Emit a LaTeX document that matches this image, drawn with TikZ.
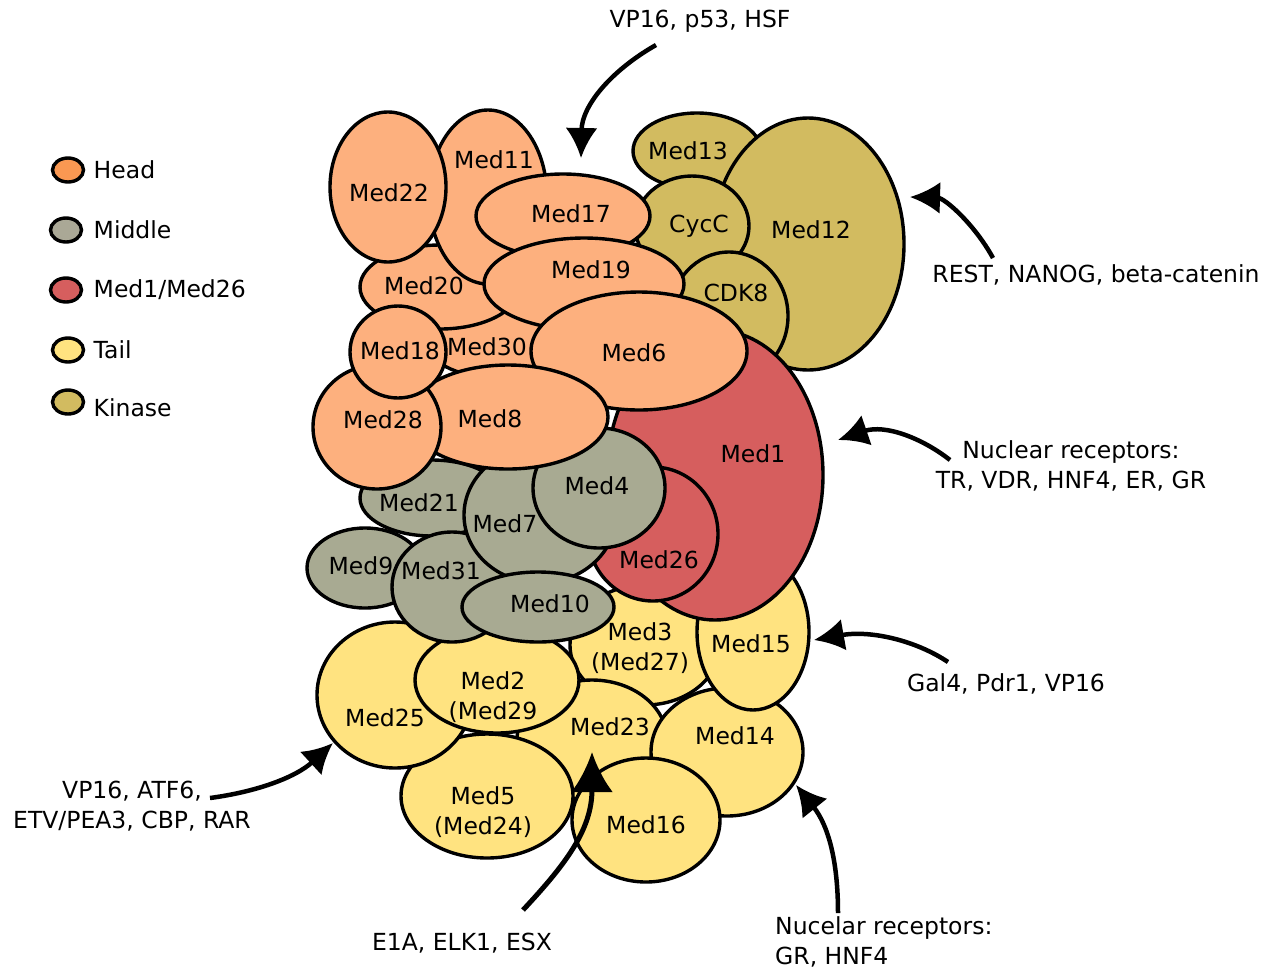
\documentclass[tikz,border=0pt]{standalone}
\usepackage{fontspec}
\setmainfont{DejaVu Sans}
\usetikzlibrary{arrows.meta,positioning,shapes.geometric}

\definecolor{headfill}{RGB}{253,176,126}
\definecolor{midfill}{RGB}{168,170,146}
\definecolor{medfill}{RGB}{214,94,94}
\definecolor{tailfill}{RGB}{255,227,128}
\definecolor{kinfill}{RGB}{210,187,96}
\definecolor{keyhead}{RGB}{250,152,82}
\definecolor{keymid}{RGB}{170,168,150}

\begin{document}
\begin{tikzpicture}[
    x=1pt, y=-1pt,
    font=\fontsize{23.5pt}{29.5pt}\selectfont,
    part/.style={
        ellipse,
        draw,
        line width=3.4pt,
        inner sep=0pt
    },
    headpart/.style={part, fill=headfill},
    midpart/.style={part, fill=midfill},
    medpart/.style={part, fill=medfill},
    tailpart/.style={part, fill=tailfill},
    kinpart/.style={part, fill=kinfill},
    size/.style 2 args={
        minimum width=#1pt,
        minimum height=#2pt
    },
    tag/.style 2 args={
        label={[align=center, shift={#1}]center:#2}
    },
    keymark/.style={
        part,
        minimum width=31pt,
        minimum height=24pt
    },
    cue/.style={
        align=center,
        inner sep=0pt
    },
    bind/.style={
        line width=4.5pt,
        -{Latex[length=30pt,width=32pt]}
    },
    bigbind/.style={
        line width=5pt,
        -{Latex[length=40pt,width=42pt]}
    }
]
\useasboundingbox (0,0) rectangle (1271,970);

% Legend
\node[keymark, fill=keyhead] (keyhead) at (68,170) {};
\node[keymark, fill=keymid] (keymid) at (66,230) {};
\node[keymark, fill=medfill] (keymed) at (66,290) {};
\node[keymark, fill=tailfill] (keytail) at (68,350) {};
\node[keymark, fill=kinfill] (keykin) at (68,402) {};
\node[right=5pt of keyhead] (labhead) {Head};
\node[right=7pt of keymid] (labmid) {Middle};
\node[right=7pt of keymed] (labmed) {Med1/Med26};
\node[right=5pt of keytail] (labtail) {Tail};
\node[right=5pt of keykin, yshift=-6pt] (labkin) {Kinase};

% Kinase module
\node[kinpart, size={128}{76}, tag={(-9pt,0pt)}{Med13}] (med13) at (697,151) {};
\node[kinpart, size={192}{252}, tag={(3pt,14pt)}{Med12}] (med12) at (808,244) {};
\node[kinpart, size={114}{100}, tag={(7pt,0pt)}{CycC}] (cycc) at (692,226) {};
\node[kinpart, size={118}{128}, tag={(7pt,23pt)}{CDK8}] (cdk8) at (729,316) {};

% Tail
\node[tailpart, size={150}{120}, tag={(-5pt,-3pt)}{Med3\\(Med27)}] (med3) at (645,645) {};
\node[tailpart, size={150}{120}, tag={(18pt,13pt)}{Med23}] (med23) at (592,740) {};
\node[tailpart, size={152}{128}, tag={(8pt,16pt)}{Med14}] (med14) at (727,752) {};
\node[tailpart, size={112}{156}, tag={(-2pt,-12pt)}{Med15}] (med15) at (753,632) {};
\node[tailpart, size={148}{124}, tag={(0pt,-5pt)}{Med16}] (med16) at (646,820) {};
\node[tailpart, size={172}{124}, tag={(-4pt,-16pt)}{Med5\\(Med24)}] (med5) at (487,796) {};
\node[tailpart, size={156}{146}, tag={(-10pt,-23pt)}{Med25}] (med25) at (395,695) {};
\node[tailpart, size={164}{106}, tag={(-4pt,-17pt)}{Med2\\(Med29}] (med2) at (497,680) {};

% Med1 / Med26
\node[medpart, size={216}{290}, tag={(38pt,21pt)}{Med1}] (med1) at (715,475) {};
\node[medpart, size={130}{134}, tag={(6pt,-26pt)}{Med26}] (med26) at (653,534) {};

% Middle
\node[midpart, size={144}{76}, tag={(-13pt,-5pt)}{Med21}] (med21) at (432,498) {};
\node[midpart, size={116}{80}, tag={(-4pt,2pt)}{Med9}] (med9) at (365,568) {};
\node[midpart, size={120}{110}, tag={(-11pt,16pt)}{Med31}] (med31) at (452,587) {};
\node[midpart, size={152}{136}, tag={(-35pt,-9pt)}{Med7}] (med7) at (540,515) {};
\node[midpart, size={132}{120}, tag={(-2pt,2pt)}{Med4}] (med4) at (599,488) {};
\node[midpart, size={152}{70}, tag={(12pt,3pt)}{Med10}] (med10) at (538,607) {};

% Head
\node[headpart, size={130}{70}, tag={(-5pt,-5pt)}{Med30}] (med30) at (492,342) {};
\node[headpart, size={160}{84}, tag={(-16pt,1pt)}{Med20}] (med20) at (440,287) {};
\node[headpart, size={118}{174}, tag={(6pt,37pt)}{Med11}] (med11) at (488,197) {};
\node[headpart, size={116}{150}, tag={(1pt,-6pt)}{Med22}] (med22) at (388,187) {};
\node[headpart, size={174}{84}, tag={(8pt,2pt)}{Med17}] (med17) at (563,216) {};
\node[headpart, size={200}{92}, tag={(7pt,14pt)}{Med19}] (med19) at (584,284) {};
\node[headpart, size={216}{118}, tag={(-5pt,-2pt)}{Med6}] (med6) at (639,351) {};
\node[headpart, size={200}{104}, tag={(-18pt,-2pt)}{Med8}] (med8) at (508,417) {};
\node[headpart, size={128}{124}, tag={(6pt,7pt)}{Med28}] (med28) at (377,427) {};
\node[headpart, size={96}{92}, tag={(2pt,1pt)}{Med18}] (med18) at (398,352) {};

% Activators
\node[cue] (vpptext) at (700,21) {VP16, p53, HSF};
\node[cue] (resttext) at (1096,275) {REST, NANOG, beta-catenin};
\node[cue] (nrtext) at (1071,466) {Nuclear receptors:\\TR, VDR, HNF4, ER, GR};
\node[cue] (galtext) at (1006,684) {Gal4, Pdr1, VP16};
\node[cue, anchor=west, align=left] (grtext) at (775,942) {Nucelar receptors:\\GR, HNF4};
\node[cue] (e1atext) at (462,943) {E1A, ELK1, ESX};
\node[cue] (vpatext) at (132,806) {VP16, ATF6,\\ETV/PEA3, CBP, RAR};

\coordinate (vpp-from) at (656,45);
\coordinate (vpp-to) at (581,158);
\coordinate (rest-from) at (993,258);
\coordinate (rest-to) at (910,197);
\coordinate (nr-from) at (950,460);
\coordinate (nr-to) at (838,440);
\coordinate (gal-from) at (948,662);
\coordinate (gal-to) at (814,640);
\coordinate (gr-from) at (838,913);
\coordinate (gr-to) at (796,785);
\coordinate (e1a-from) at (523,910);
\coordinate (e1a-to) at (592,752);
\coordinate (vpa-from) at (210,798);
\coordinate (vpa-to) at (333,743);

\draw[bind] (vpp-from) .. controls (612,70) and (582,105) .. (vpp-to);
\draw[bind] (rest-from) .. controls (975,225) and (945,198) .. (rest-to);
\draw[bind] (nr-from) .. controls (922,438) and (885,424) .. (nr-to);
\draw[bind] (gal-from) .. controls (915,640) and (870,630) .. (gal-to);
\draw[bind] (gr-from) .. controls (838,860) and (828,825) .. (gr-to);
\draw[bigbind] (e1a-from) .. controls (565,865) and (592,830) .. (e1a-to);
\draw[bind] (vpa-from) .. controls (255,792) and (295,778) .. (vpa-to);

\end{tikzpicture}
\end{document}
